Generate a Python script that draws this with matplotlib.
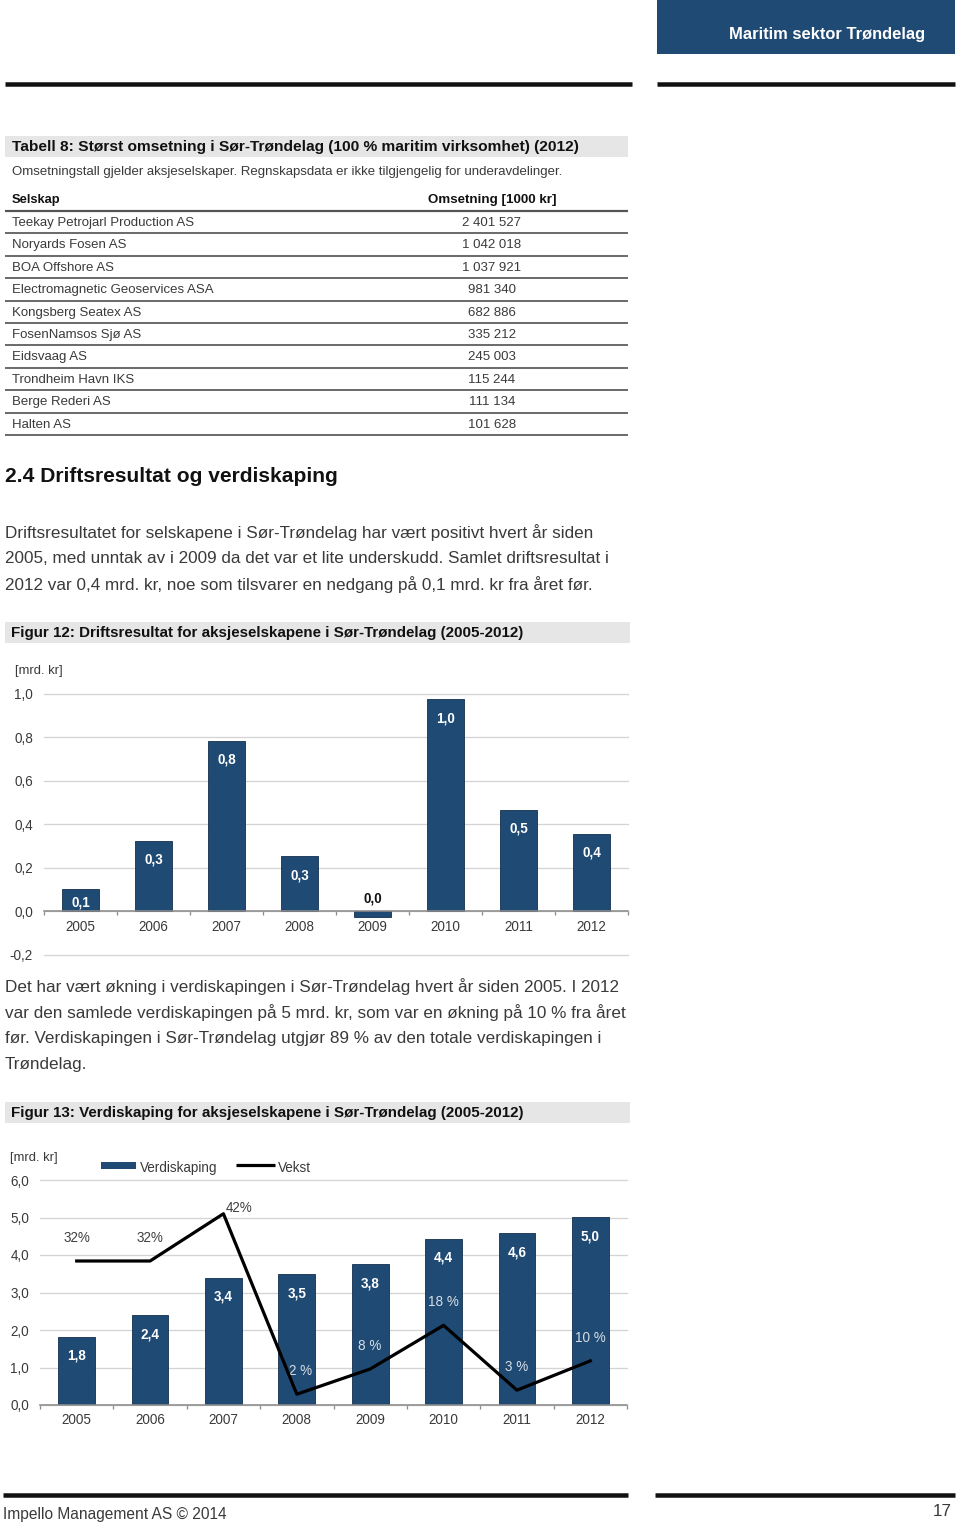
import matplotlib
matplotlib.use("Agg")
import matplotlib.pyplot as plt
from matplotlib import font_manager as fm
from matplotlib.patches import Rectangle
from matplotlib.lines import Line2D

# ---------------- data ----------------
companies = ["Teekay Petrojarl Production AS", "Noryards Fosen AS", "BOA Offshore AS",
             "Electromagnetic Geoservices ASA", "Kongsberg Seatex AS", "FosenNamsos Sjø AS",
             "Eidsvaag AS", "Trondheim Havn IKS", "Berge Rederi AS", "Halten AS"]
revenue = [2401527, 1042018, 1037921, 981340, 682886, 335212, 245003, 115244, 111134, 101628]

years = ["2005", "2006", "2007", "2008", "2009", "2010", "2011", "2012"]
driftsresultat = [0.104, 0.326, 0.784, 0.253, -0.023, 0.975, 0.467, 0.357]
yticks12 = [-0.2, 0.0, 0.2, 0.4, 0.6, 0.8, 1.0]

verdiskaping = [1.82, 2.39, 3.40, 3.49, 3.76, 4.43, 4.58, 5.01]
vekst = [0.32, 0.32, 0.425, 0.024, 0.080, 0.177, 0.033, 0.098]
vekst_labels = ["32%", "32%", "42%", "2 %", "8 %", "18 %", "3 %", "10 %"]
yticks13 = [0, 1, 2, 3, 4, 5, 6]

para1 = ["Driftsresultatet for selskapene i Sør-Trøndelag har vært positivt hvert år siden",
         "2005, med unntak av i 2009 da det var et lite underskudd. Samlet driftsresultat i",
         "2012 var 0,4 mrd. kr, noe som tilsvarer en nedgang på 0,1 mrd. kr fra året før."]
para2 = ["Det har vært økning i verdiskapingen i Sør-Trøndelag hvert år siden 2005. I 2012",
         "var den samlede verdiskapingen på 5 mrd. kr, som var en økning på 10 % fra året",
         "før. Verdiskapingen i Sør-Trøndelag utgjør 89 % av den totale verdiskapingen i",
         "Trøndelag."]

# ---------------- style ----------------
names = {f.name for f in fm.fontManager.ttflist}
NARROW_OK = "Liberation Sans Narrow" in names
NARROW = "Liberation Sans Narrow" if NARROW_OK else "Liberation Sans"
NS = 1.0 if NARROW_OK else 0.92  # size factor for condensed headings
BODY = "Liberation Sans"
plt.rcParams["font.family"] = [BODY, "DejaVu Sans"]

BLUE = "#1f4a73"
GREY_BAND = "#e6e6e6"
TXT = "#3a3a3a"

W, H = 960, 1524
fig = plt.figure(figsize=(W / 100, H / 100), dpi=100)


def fx(x):
    return x / W


def fy(y):
    return 1 - y / H


def pt(px):
    return px * 0.72


def ftext(x, y, s, size, **kw):
    kw.setdefault("va", "center")
    kw.setdefault("color", TXT)
    fig.text(fx(x), fy(y), s, fontsize=pt(size), **kw)


def frect(x0, y0, x1, y1, color):
    fig.patches.append(Rectangle((fx(x0), fy(y1)), fx(x1) - fx(x0), fy(y0) - fy(y1),
                                 transform=fig.transFigure, color=color, lw=0, zorder=0))


def fline(x0, x1, y, lw_px, color):
    fig.lines.append(Line2D([fx(x0), fx(x1)], [fy(y), fy(y)], transform=fig.transFigure,
                            color=color, lw=pt(lw_px), solid_capstyle="butt"))


def fmt_dec(v):
    s = f"{abs(v):.1f}" if round(v, 1) == 0 else f"{v:.1f}"
    return s.replace(".", ",")


def fmt_int(v):
    return f"{v:,}".replace(",", " ")


# ---------------- page header ----------------
frect(657, 0, 955, 54, BLUE)
ftext(925, 34, "Maritim sektor Trøndelag", 18 * NS, family=NARROW, weight="bold",
      color="white", ha="right")
fline(5, 632, 84, 4.5, "#111111")
fline(657, 955, 84, 4.5, "#111111")

# ---------------- table ----------------
frect(5, 136, 628, 157, GREY_BAND)
ftext(12, 146.5, "Tabell 8: Størst omsetning i Sør-Trøndelag (100 % maritim virksomhet) (2012)",
      16.8 * NS, family=NARROW, weight="bold", color="#111111")
ftext(12, 172.5, "Omsetningstall gjelder aksjeselskaper. Regnskapsdata er ikke tilgjengelig for underavdelinger.",
      13.3)
ftext(12, 200.5, "Selskap", 14 * NS, family=NARROW, weight="bold", color="#111111")
ftext(492, 200.5, "Omsetning [1000 kr]", 14.5 * NS, family=NARROW, weight="bold", color="#111111",
      ha="center")
row_h = 22.4
fline(5, 628, 211, 2.2, "#555555")
for i, (c, r) in enumerate(zip(companies, revenue)):
    yc = 223 + i * row_h
    ftext(12, yc, c, 13.3)
    ftext(492, yc, fmt_int(r), 13.3, ha="center")
    fline(5, 628, 211 + (i + 1) * row_h, 1.6, "#4a4a4a")

# ---------------- section text ----------------
ftext(5, 476.5, "2.4 Driftsresultat og verdiskaping", 22.8 * NS, family=NARROW, weight="bold",
      color="#111111")
for i, line in enumerate(para1):
    ftext(5, 532.5 + i * 26, line, 17.1)

# ---------------- figure 12 ----------------
frect(5, 622, 630, 643, GREY_BAND)
ftext(11, 632.5, "Figur 12: Driftsresultat for aksjeselskapene i Sør-Trøndelag (2005-2012)",
      16.4 * NS, family=NARROW, weight="bold", color="#111111")
ftext(15, 671.5, "[mrd. kr]", 13)

ax1 = fig.add_axes([fx(44), fy(955), fx(628) - fx(44), fy(694) - fy(955)])
x = list(range(len(years)))
ax1.bar(x, driftsresultat, width=0.5, color=BLUE, edgecolor="#12304d", lw=0.6, zorder=3)
ax1.set_xlim(-0.5, len(years) - 0.5)
ax1.set_ylim(yticks12[0], yticks12[-1])
ax1.set_yticks(yticks12)
ax1.set_yticklabels([fmt_dec(v) for v in yticks12])
ax1.grid(axis="y", color="#d4d4d4", lw=pt(1.3), zorder=0)
for gl in ax1.get_ygridlines():
    gl.set_clip_on(False)
for s in ["top", "right", "left"]:
    ax1.spines[s].set_visible(False)
ax1.spines["bottom"].set_position(("data", 0))
ax1.spines["bottom"].set_color("#8c8c8c")
ax1.spines["bottom"].set_linewidth(pt(1.6))
ax1.spines["bottom"].set_zorder(4)
ax1.set_xticks(x)
ax1.set_xticklabels(years)
ax1.set_xticks([i - 0.5 for i in range(len(years) + 1)], minor=True)
ax1.tick_params(axis="x", which="major", length=0, pad=pt(9), labelsize=pt(13.5), labelcolor=TXT)
ax1.tick_params(axis="x", which="minor", length=pt(4), width=pt(1.3), color="#8c8c8c", direction="out")
ax1.tick_params(axis="y", length=0, pad=pt(11), labelsize=pt(13.5), labelcolor=TXT)
for i, v in enumerate(driftsresultat):
    lbl = fmt_dec(v)
    if v < 0.02:
        ax1.annotate(lbl, (i, 0), xytext=(0, pt(13)), textcoords="offset points",
                     ha="center", va="center", fontsize=pt(13.5), weight="bold", color="#111111")
    else:
        off = -14 if v < 0.15 else -19
        ax1.annotate(lbl, (i, v), xytext=(0, pt(off)), textcoords="offset points",
                     ha="center", va="center", fontsize=pt(13.5), weight="bold", color="white",
                     zorder=5)

for i, line in enumerate(para2):
    ftext(5, 987 + i * 26, line, 17.1)

# ---------------- figure 13 ----------------
frect(5, 1102, 630, 1123, GREY_BAND)
ftext(11, 1112.5, "Figur 13: Verdiskaping for aksjeselskapene i Sør-Trøndelag (2005-2012)",
      16.4 * NS, family=NARROW, weight="bold", color="#111111")
ftext(10, 1157.5, "[mrd. kr]", 13)

ax2 = fig.add_axes([fx(40), fy(1405), fx(627) - fx(40), fy(1180) - fy(1405)])
ax2.bar(x, verdiskaping, width=0.5, color=BLUE, edgecolor="#12304d", lw=0.6, zorder=3,
        label="Verdiskaping")
ax2.set_xlim(-0.5, len(years) - 0.5)
ax2.set_ylim(yticks13[0], yticks13[-1])
ax2.set_yticks(yticks13)
ax2.set_yticklabels([fmt_dec(v) for v in yticks13])
ax2.grid(axis="y", color="#d4d4d4", lw=pt(1.3), zorder=0)
for gl in ax2.get_ygridlines():
    gl.set_clip_on(False)
for s in ["top", "right", "left"]:
    ax2.spines[s].set_visible(False)
ax2.spines["bottom"].set_color("#8c8c8c")
ax2.spines["bottom"].set_linewidth(pt(1.6))
ax2.spines["bottom"].set_zorder(4)
ax2.set_xticks(x)
ax2.set_xticklabels(years)
ax2.set_xticks([i - 0.5 for i in range(len(years) + 1)], minor=True)
ax2.tick_params(axis="x", which="major", length=0, pad=pt(8), labelsize=pt(13.5), labelcolor=TXT)
ax2.tick_params(axis="x", which="minor", length=pt(4), width=pt(1.3), color="#8c8c8c", direction="out")
ax2.tick_params(axis="y", length=0, pad=pt(11), labelsize=pt(13.5), labelcolor=TXT)
for i, v in enumerate(verdiskaping):
    ax2.annotate(fmt_dec(v), (i, v), xytext=(0, pt(-19)), textcoords="offset points",
                 ha="center", va="center", fontsize=pt(13.5), weight="bold", color="white", zorder=5)

ax3 = ax2.twinx()
ax3.set_ylim(0, 0.5)
ax3.axis("off")
ax3.plot(x, vekst, color="black", lw=pt(3.2), zorder=6, label="Vekst")
for i, (v, lbl) in enumerate(zip(vekst, vekst_labels)):
    on_bar = i >= 3
    if i == 2:
        ax3.annotate(lbl, (i, v), xytext=(pt(2), pt(6)), textcoords="offset points",
                     ha="left", va="center", fontsize=pt(13.5), color="#404040")
    else:
        dx = 4 if i == 3 else 0
        ax3.annotate(lbl, (i, v), xytext=(pt(dx), pt(23)), textcoords="offset points",
                     ha="center", va="center", fontsize=pt(13.5),
                     color="#d8dee6" if on_bar else "#404040")

# legend
frect(101, 1162, 136, 1169, BLUE)
ftext(140, 1168, "Verdiskaping", 13.5)
fline(236, 275, 1165, 3.2, "black")
ftext(278, 1168, "Vekst", 13.5)

# ---------------- footer ----------------
fline(3, 628, 1495, 4.5, "#111111")
fline(655, 955, 1495, 4.5, "#111111")
ftext(3, 1514, "Impello Management AS © 2014", 15.5)
ftext(952, 1511, "17", 17, ha="right")

fig.savefig("out.png", dpi=100)
